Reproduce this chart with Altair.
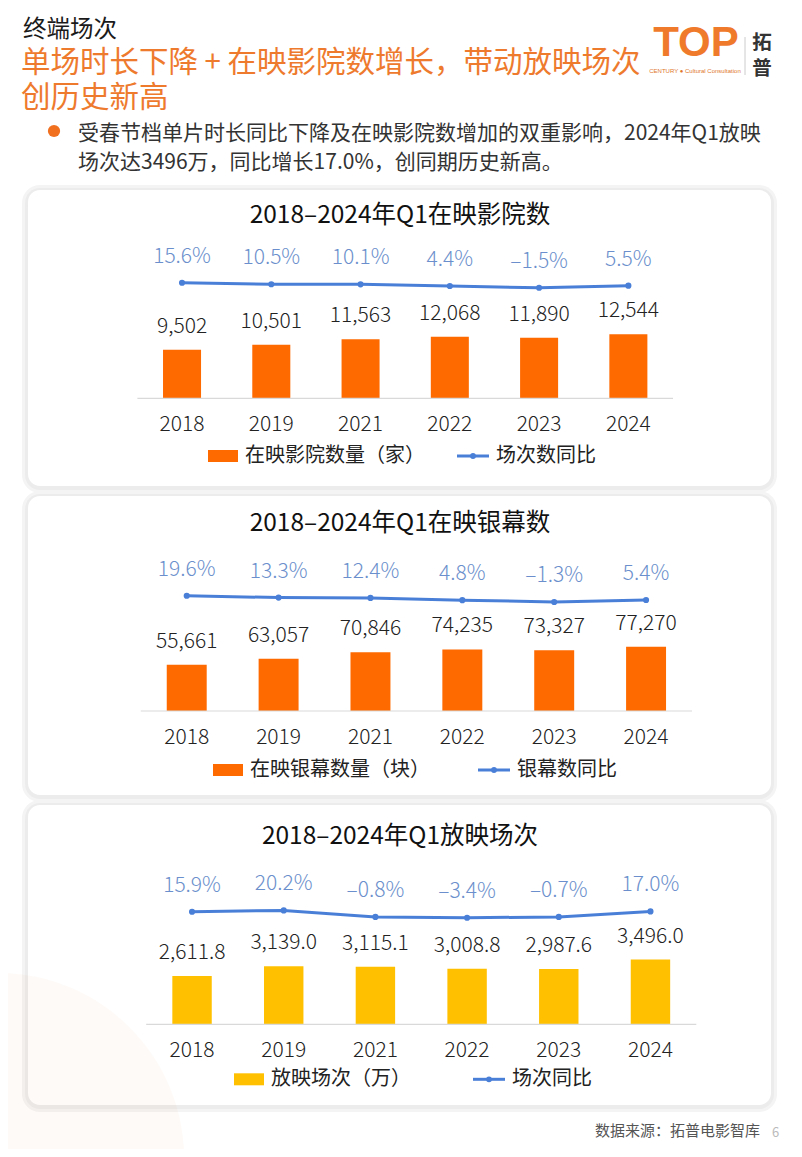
import altair as alt
import pandas as pd

FONT = "Noto Sans CJK SC"

# ---------------- data ----------------
years = ["2018", "2019", "2021", "2022", "2023", "2024"]
cinemas = [9502, 10501, 11563, 12068, 11890, 12544]
cinemas_yoy = [15.6, 10.5, 10.1, 4.4, -1.5, 5.5]
screens = [55661, 63057, 70846, 74235, 73327, 77270]
screens_yoy = [19.6, 13.3, 12.4, 4.8, -1.3, 5.4]
shows = [2611.8, 3139.0, 3115.1, 3008.8, 2987.6, 3496.0]
shows_yoy = [15.9, 20.2, -0.8, -3.4, -0.7, 17.0]

panel_titles = ["2018–2024年Q1在映影院数", "2018–2024年Q1在映银幕数", "2018–2024年Q1放映场次"]
bar_legends = ["在映影院数量（家）", "在映银幕数量（块）", "放映场次（万）"]
line_legends = ["场次数同比", "银幕数同比", "场次同比"]

header_kicker = "终端场次"
header_title = ["单场时长下降 + 在映影院数增长，带动放映场次", "创历史新高"]
header_bullet = ["受春节档单片时长同比下降及在映影院数增加的双重影响，2024年Q1放映",
                 "场次达3496万，同比增长17.0%，创同期历史新高。"]
source_note = "数据来源：拓普电影智库"
page_no = "6"

ORANGE = "#FF6A00"
YELLOW = "#FFC000"
BLUE = "#4A7FD8"
PCT_BLUE = "#6B8FCC"
TITLE_ORANGE = "#EE7A2E"
W, H = 786, 1141


def one():
    return alt.Chart(pd.DataFrame({"k": [0]}))


def txt(x, y, s, size, color="#222", align="left", weight="normal", font=FONT):
    return one().mark_text(align=align, baseline="middle", fontSize=size, color=color,
                           font=font, fontWeight=weight).encode(
        x=alt.value(x), y=alt.value(y), text=alt.value(s))


def box(x0, x1, y0, y1, color, radius=0, opacity=1.0):
    kw = dict(color=color, opacity=opacity)
    if radius:
        kw["cornerRadius"] = radius
    return one().mark_rect(**kw).encode(
        x=alt.value(x0), x2=alt.value(x1), y=alt.value(y0), y2=alt.value(y1))


def panel(vals, pcts, fmt, title, bar_color, leg_bar, leg_line, g, oy):
    df = pd.DataFrame({
        "year": years,
        "value": vals,
        "pct": pcts,
        "vlab": [fmt.format(v) for v in vals],
        "plab": [("{:.1f}%".format(p)).replace("-", "–") for p in pcts],
    })
    base = alt.Chart(df)
    xs = alt.X("year:N", sort=years, axis=None,
               scale=alt.Scale(domain=years, range=[g["x0"], g["x1"]],
                               paddingInner=g["pi"], paddingOuter=g["pi"] / 2))
    b = g["base"] + oy
    yv = alt.Y("value:Q", axis=None,
               scale=alt.Scale(domain=[0, g["vd"]], nice=False,
                               range=[b, b - g["vk"] * g["vd"]]))
    l0 = g["l0"] + oy
    yp = alt.Y("pct:Q", axis=None,
               scale=alt.Scale(domain=[-100, 100], nice=False,
                               range=[l0 + g["ls"] * 100, l0 - g["ls"] * 100]))
    px0, px1 = 20, 763
    py0, py1 = g["py0"] + oy, g["py1"] + oy
    ly = g["ly"] + oy
    layers = [
        box(px0 - 6, px1 + 6, py0 - 5, py1 + 7, "#f4f4f4", 18),
        box(px0 - 3, px1 + 3, py0 - 2, py1 + 4, "#ececec", 15),
        box(px0, px1, py0, py1, "#ffffff", 12),
    ]
    if g.get("deco"):
        layers.append(one().mark_circle(color="#F07020", opacity=0.035, size=3.1416 * 210 * 210,
                                        clip=True).encode(x=alt.value(-10), y=alt.value(H + 10)))
    layers += [
        txt(392, g["ty"] + oy, title, 24.5, "#111", align="center"),
        base.mark_bar(color=bar_color).encode(x=xs, y=yv, y2=alt.datum(0)),
        base.mark_text(font=FONT, fontSize=21, fontWeight=300, color="#222", dy=-23,
                       baseline="middle").encode(x=xs, y=yv, text="vlab:N"),
        one().mark_rule(color="#d9d9d9", strokeWidth=1.2).encode(
            x=alt.value(g["x0"]), x2=alt.value(g["x1"]), y=alt.value(b)),
        base.mark_line(color=BLUE, strokeWidth=3).encode(x=xs, y=yp),
        base.mark_circle(color=BLUE, size=38, opacity=1).encode(x=xs, y=yp),
        base.mark_text(font=FONT, fontSize=21, fontWeight=300, color=PCT_BLUE, dy=-26,
                       baseline="middle").encode(x=xs, y=yp, text="plab:N"),
        base.mark_text(font=FONT, fontSize=21, fontWeight=300, color="#222",
                       baseline="middle").encode(x=xs, y=alt.value(g["yy"] + oy), text="year:N"),
        # legend
        box(g["sx0"], g["sx0"] + 30, ly - 6, ly + 6, bar_color),
        txt(g["sx0"] + 37, ly, leg_bar, 20, "#222"),
        one().mark_rule(color=BLUE, strokeWidth=3).encode(
            x=alt.value(g["lx0"]), x2=alt.value(g["lx0"] + 32), y=alt.value(ly)),
        one().mark_circle(color=BLUE, size=34, opacity=1).encode(
            x=alt.value(g["lx0"] + 16), y=alt.value(ly)),
        txt(g["lx0"] + 39, ly, leg_line, 20, "#222"),
    ]
    return layers


g1 = dict(py0=5, py1=301, ty=31, x0=129.4, x1=665, pi=0.574,
          vd=20000, vk=0.0051, base=213.3, l0=102.3, ls=0.292, yy=240,
          ly=271, sx0=200, lx0=449)
g2 = dict(py0=4, py1=303, ty=32, x0=132.8, x1=684, pi=0.565,
          vd=100000, vk=0.00083, base=219, l0=109.6, ls=0.30, yy=246,
          ly=278, sx0=205, lx0=470)
g3 = dict(py0=5, py1=305, ty=37, x0=138.2, x1=688.3, pi=0.57,
          vd=5000, vk=0.0185, base=224.3, l0=116.7, ls=0.31, yy=250.7,
          ly=279.3, sx0=226, lx0=465, deco=True)

layers = []
layers += panel(cinemas, cinemas_yoy, "{:,.0f}", panel_titles[0], ORANGE,
                bar_legends[0], line_legends[0], g1, 177)
layers += panel(screens, screens_yoy, "{:,.0f}", panel_titles[1], ORANGE,
                bar_legends[1], line_legends[1], g2, 484)
layers += panel(shows, shows_yoy, "{:,.1f}", panel_titles[2], YELLOW,
                bar_legends[2], line_legends[2], g3, 792)

layers += [
    txt(752, 792 + 331, source_note, 15, "#555", align="right"),
    txt(764, 792 + 333, page_no, 13, "#bbb"),
    # header
    txt(15, 22, header_kicker, 23.5, "#1a1a1a"),
    txt(13, 55, header_title[0], 29.5, TITLE_ORANGE),
    txt(13, 90, header_title[1], 29.5, TITLE_ORANGE),
    one().mark_circle(color="#F07020", size=150, opacity=1).encode(x=alt.value(46), y=alt.value(123)),
    txt(70, 126, header_bullet[0], 21, "#333"),
    txt(70, 155, header_bullet[1], 21, "#333"),
    txt(688, 35, "TOP", 42, "#F07A2C", align="center", weight="bold", font="Liberation Sans"),
    txt(687, 63, "CENTURY ● Cultural Consultation", 6, "#E0762A", align="center", font="Liberation Sans"),
    one().mark_rule(color="#cccccc", strokeWidth=1).encode(
        x=alt.value(737), y=alt.value(29), y2=alt.value(67)),
    txt(754, 35, "拓", 19.5, "#333", align="center", weight="bold"),
    txt(754, 61, "普", 19.5, "#333", align="center", weight="bold"),
]

chart = alt.layer(*layers).resolve_scale(x="independent", y="independent").properties(
    width=W, height=H, padding=0, background="#ffffff"
).configure_view(stroke="transparent")

chart.save("out.html", embed_options={"renderer": "svg", "actions": False})
